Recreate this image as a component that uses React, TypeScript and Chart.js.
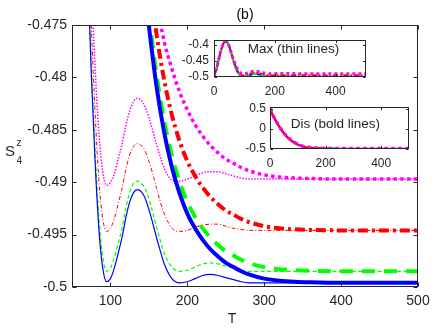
import React, { useEffect, useRef } from "react";
import { Chart, registerables } from "chart.js";

Chart.register(...registerables);

// ---------- data ----------
const THIN_T = [0, 10, 20, 30, 40, 50, 60, 65, 70, 75, 80, 85, 90, 95, 100, 105, 110, 115, 120, 125, 130, 135, 140, 145, 150, 155, 160, 165, 170, 180, 190, 200, 210, 220, 230, 240, 250, 260, 270, 280, 300, 350, 400, 450, 500];

const MAX_BLUE = [-0.5, -0.468, -0.428, -0.398, -0.39, -0.405, -0.437, -0.454, -0.4685, -0.4795, -0.488, -0.4945, -0.4982, -0.4995, -0.4992, -0.4982, -0.4968, -0.4953, -0.4934, -0.4919, -0.491, -0.4907, -0.4909, -0.4915, -0.4926, -0.4939, -0.4953, -0.4966, -0.4978, -0.4992, -0.4996, -0.4995, -0.4992, -0.4989, -0.4988, -0.4989, -0.4991, -0.4993, -0.4995, -0.4996, -0.4996, -0.4996, -0.4996, -0.4996, -0.4996];

const MAX_GREEN = [-0.5, -0.468, -0.428, -0.398, -0.39, -0.405, -0.437, -0.4533, -0.4676, -0.4785, -0.4869, -0.4934, -0.4971, -0.4985, -0.4982, -0.4972, -0.4959, -0.4944, -0.4925, -0.491, -0.4901, -0.4899, -0.4901, -0.4906, -0.4916, -0.4929, -0.4943, -0.4956, -0.4968, -0.4981, -0.4985, -0.4984, -0.4981, -0.4978, -0.4977, -0.4978, -0.498, -0.4982, -0.4984, -0.4985, -0.4985, -0.4985, -0.4985, -0.4985, -0.4985];

const MAX_RED = [-0.5, -0.468, -0.428, -0.398, -0.39, -0.405, -0.436, -0.4505, -0.4645, -0.4748, -0.4833, -0.4898, -0.4935, -0.4947, -0.4944, -0.4935, -0.4921, -0.4906, -0.4888, -0.4874, -0.4866, -0.4863, -0.4865, -0.487, -0.488, -0.4892, -0.4906, -0.4919, -0.493, -0.4944, -0.4947, -0.4946, -0.4943, -0.4941, -0.494, -0.494, -0.4942, -0.4944, -0.4945, -0.4946, -0.4946, -0.4946, -0.4946, -0.4946, -0.4946];

const MAX_MAGENTA = [-0.5, -0.468, -0.428, -0.398, -0.39, -0.405, -0.435, -0.447, -0.4605, -0.4708, -0.479, -0.4853, -0.489, -0.4903, -0.49, -0.4892, -0.4878, -0.4864, -0.4846, -0.4832, -0.4823, -0.482, -0.4822, -0.4828, -0.4838, -0.4851, -0.4864, -0.4876, -0.4887, -0.4898, -0.4899, -0.4897, -0.4894, -0.4891, -0.489, -0.489, -0.4892, -0.4894, -0.4896, -0.4897, -0.4897, -0.4897, -0.4897, -0.4897, -0.4897];

const THICK_T = [0, 10, 20, 30, 40, 50, 60, 70, 80, 90, 100, 110, 120, 130, 140, 150, 160, 170, 180, 190, 200, 210, 220, 230, 240, 250, 260, 270, 280, 300, 320, 340, 360, 400, 450, 500];

const DIS_BLUE = [0.5, 0.3404, 0.2104, 0.0904, -0.0196, -0.1096, -0.1896, -0.2546, -0.3096, -0.3546, -0.3916, -0.4216, -0.4436, -0.4596, -0.4686, -0.4751, -0.4809, -0.4853, -0.4886, -0.4911, -0.493, -0.4944, -0.4955, -0.4964, -0.4971, -0.4977, -0.4981, -0.4985, -0.4988, -0.4992, -0.4994, -0.4995, -0.49955, -0.4996, -0.4996, -0.4996];

const DIS_GREEN = [0.5, 0.3415, 0.2115, 0.0915, -0.0185, -0.1085, -0.1885, -0.2535, -0.3085, -0.3535, -0.3905, -0.4205, -0.4425, -0.4585, -0.4675, -0.474, -0.4798, -0.4842, -0.4875, -0.49, -0.4919, -0.4933, -0.4944, -0.4953, -0.496, -0.4966, -0.497, -0.4974, -0.4977, -0.4981, -0.4983, -0.4984, -0.49845, -0.4985, -0.4985, -0.4985];

const DIS_RED = [0.5, 0.3454, 0.2154, 0.0954, -0.0146, -0.1046, -0.1846, -0.2496, -0.3046, -0.3496, -0.3866, -0.4166, -0.4386, -0.4546, -0.4636, -0.4701, -0.4759, -0.4803, -0.4836, -0.4861, -0.488, -0.4894, -0.4905, -0.4914, -0.4921, -0.4927, -0.4931, -0.4935, -0.4938, -0.4942, -0.4944, -0.4945, -0.49455, -0.4946, -0.4946, -0.4946];

const DIS_MAGENTA = [0.5, 0.3503, 0.2203, 0.1003, -0.0097, -0.0997, -0.1797, -0.2447, -0.2997, -0.3447, -0.3817, -0.4117, -0.4337, -0.4497, -0.4587, -0.4665, -0.4727, -0.4766, -0.4792, -0.4814, -0.4831, -0.4845, -0.4856, -0.4865, -0.4872, -0.4878, -0.4882, -0.4886, -0.4889, -0.4893, -0.4895, -0.4896, -0.48965, -0.4897, -0.4897, -0.4897];

const MAIN_X_TICKS = [100, 200, 300, 400, 500];
const MAIN_Y_TICKS = [-0.5, -0.495, -0.49, -0.485, -0.48, -0.475];
const MAX_X_TICKS = [0, 200, 400];
const MAX_Y_TICKS = [-0.5, -0.45, -0.4];
const DIS_X_TICKS = [0, 200, 400];
const DIS_Y_TICKS = [-0.5, 0, 0.5];

const TITLE = "(b)";
const X_LABEL = "T";
const MAX_TEXT = "Max (thin lines)";
const DIS_TEXT = "Dis (bold lines)";

// ---------- styling ----------
const FONT = "'Liberation Sans', Arial, Helvetica, sans-serif";
const AX = "#262626";
const BLUE = "#0000ff";
const GREEN = "#00ff00";
const RED = "#ff0000";
const MAGENTA = "#ff00ff";

const pts = (xs: number[], ys: number[]) => xs.map((x, i) => ({ x, y: ys[i] }));
const fmt = (v: number) => String(Number(Number(v).toFixed(4)));

function line(xs: number[], ys: number[], color: string, width: number, dash: number[]) {
  return {
    data: pts(xs, ys),
    borderColor: color,
    backgroundColor: color,
    borderWidth: width,
    borderDash: dash,
    pointRadius: 0,
    fill: false,
    cubicInterpolationMode: "monotone" as const,
    clip: 0,
  };
}

function framePlugin(tickLen: number, extra?: (chart: any) => void) {
  return {
    id: "frame",
    beforeDraw(chart: any) {
      const { ctx, chartArea: a } = chart;
      ctx.save();
      ctx.fillStyle = "#ffffff";
      ctx.fillRect(a.left, a.top, a.right - a.left, a.bottom - a.top);
      ctx.restore();
    },
    afterDraw(chart: any) {
      const { ctx, chartArea: a, scales } = chart;
      ctx.save();
      ctx.strokeStyle = AX;
      ctx.lineWidth = 1;
      const L = Math.round(a.left) + 0.5;
      const R = Math.round(a.right) - 0.5;
      const T = Math.round(a.top) + 0.5;
      const B = Math.round(a.bottom) - 0.5;
      ctx.strokeRect(L, T, R - L, B - T);
      ctx.beginPath();
      for (const t of scales.x.ticks) {
        const px = Math.round(scales.x.getPixelForValue(t.value)) + 0.5;
        ctx.moveTo(px, B);
        ctx.lineTo(px, B - tickLen);
        ctx.moveTo(px, T);
        ctx.lineTo(px, T + tickLen);
      }
      for (const t of scales.y.ticks) {
        const py = Math.round(scales.y.getPixelForValue(t.value)) + 0.5;
        ctx.moveTo(L, py);
        ctx.lineTo(L + tickLen, py);
        ctx.moveTo(R, py);
        ctx.lineTo(R - tickLen, py);
      }
      ctx.stroke();
      ctx.restore();
      if (extra) extra(chart);
    },
  };
}

function axisOpts(
  min: number,
  max: number,
  ticks: number[],
  size: number,
  pad: number,
  fit: (s: any) => void
) {
  return {
    type: "linear" as const,
    min,
    max,
    grid: { display: false, drawTicks: false, tickLength: 0 },
    border: { display: false },
    afterBuildTicks: (s: any) => {
      s.ticks = ticks.map((v) => ({ value: v }));
    },
    afterFit: fit,
    ticks: {
      font: { family: FONT, size },
      color: AX,
      padding: pad,
      maxRotation: 0,
      minRotation: 0,
      autoSkip: false,
      callback: (v: any) => fmt(v),
    },
  };
}

function useChart(ref: React.RefObject<HTMLCanvasElement>, make: (c: HTMLCanvasElement) => Chart) {
  useEffect(() => {
    if (!ref.current) return;
    const ch = make(ref.current);
    return () => ch.destroy();
  }, []);
}

export default function App() {
  const mainRef = useRef<HTMLCanvasElement>(null);
  const maxRef = useRef<HTMLCanvasElement>(null);
  const disRef = useRef<HTMLCanvasElement>(null);

  useChart(mainRef, (c) =>
    new Chart(c, {
      type: "line",
      data: {
        datasets: [
          line(THICK_T, DIS_BLUE, BLUE, 4, []),
          line(THICK_T, DIS_GREEN, GREEN, 4, [13, 9]),
          line(THICK_T, DIS_RED, RED, 4, [10, 4, 3, 4]),
          line(THICK_T, DIS_MAGENTA, MAGENTA, 3.5, [3.5, 3.3]),
          line(THIN_T, MAX_BLUE, BLUE, 1.2, []),
          line(THIN_T, MAX_GREEN, GREEN, 1.2, [4, 2.5]),
          line(THIN_T, MAX_RED, RED, 1, [4, 2, 1, 2]),
          line(THIN_T, MAX_MAGENTA, MAGENTA, 1.5, [1.5, 1.5]),
        ] as any,
      },
      options: {
        animation: false,
        responsive: false,
        maintainAspectRatio: false,
        devicePixelRatio: 1,
        events: [],
        layout: { padding: { left: 0, top: 25, right: 18, bottom: 0 } },
        plugins: { legend: { display: false }, tooltip: { enabled: false } },
        scales: {
          x: axisOpts(50, 500, MAIN_X_TICKS, 14, 6, (s: any) => {
            s.height = 41;
          }),
          y: axisOpts(-0.5, -0.475, MAIN_Y_TICKS, 14, 5, (s: any) => {
            s.width = 72;
          }),
        },
      } as any,
      plugins: [
        framePlugin(4, (chart: any) => {
          const ctx = chart.ctx;
          ctx.save();
          ctx.fillStyle = "#000000";
          ctx.textBaseline = "alphabetic";
          ctx.font = `14px ${FONT}`;
          ctx.textAlign = "center";
          ctx.fillText(TITLE, 245, 19);
          ctx.fillStyle = AX;
          ctx.fillText(X_LABEL, 232, 323);
          ctx.textAlign = "left";
          ctx.font = `15px ${FONT}`;
          ctx.fillText("S", 5, 156);
          ctx.font = `10px ${FONT}`;
          ctx.fillText("z", 16.5, 145.5);
          ctx.fillText("4", 16.5, 163.5);
          ctx.restore();
        }) as any,
      ],
    })
  );

  useChart(maxRef, (c) =>
    new Chart(c, {
      type: "line",
      data: {
        datasets: [
          line(THIN_T, MAX_MAGENTA, MAGENTA, 3, [3, 3]),
          line(THIN_T, MAX_RED, RED, 1.8, [5, 2, 1.5, 2]),
          line(THIN_T, MAX_GREEN, GREEN, 2.4, [5, 3]),
          line(THIN_T, MAX_BLUE, BLUE, 1.8, []),
        ] as any,
      },
      options: {
        animation: false,
        responsive: false,
        maintainAspectRatio: false,
        devicePixelRatio: 1,
        events: [],
        layout: { padding: { left: 0, top: 5, right: 4, bottom: 0 } },
        plugins: { legend: { display: false }, tooltip: { enabled: false } },
        scales: {
          x: axisOpts(0, 500, MAX_X_TICKS, 12, 7, (s: any) => {
            s.height = 21;
          }),
          y: axisOpts(-0.5, -0.386, MAX_Y_TICKS, 12, 5, (s: any) => {
            s.width = 50;
          }),
        },
      } as any,
      plugins: [
        framePlugin(2.5, (chart: any) => {
          const ctx = chart.ctx;
          ctx.save();
          ctx.fillStyle = AX;
          ctx.font = `13.5px ${FONT}`;
          ctx.textAlign = "left";
          ctx.textBaseline = "alphabetic";
          ctx.fillText(MAX_TEXT, 83.7, 25.3);
          ctx.restore();
        }) as any,
      ],
    })
  );

  useChart(disRef, (c) =>
    new Chart(c, {
      type: "line",
      data: {
        datasets: [
          line(THICK_T, DIS_MAGENTA, MAGENTA, 3.5, [3.5, 3.5]),
          line(THICK_T, DIS_RED, RED, 2, []),
          line(THICK_T, DIS_GREEN, GREEN, 2, [6, 3]),
          line(THICK_T, DIS_BLUE, BLUE, 2, []),
        ] as any,
      },
      options: {
        animation: false,
        responsive: false,
        maintainAspectRatio: false,
        devicePixelRatio: 1,
        events: [],
        layout: { padding: { left: 0, top: 7, right: 6, bottom: 0 } },
        plugins: { legend: { display: false }, tooltip: { enabled: false } },
        scales: {
          x: axisOpts(0, 500, DIS_X_TICKS, 12, 7, (s: any) => {
            s.height = 19;
          }),
          y: axisOpts(-0.5, 0.54, DIS_Y_TICKS, 12, 4, (s: any) => {
            s.width = 50;
          }),
        },
      } as any,
      plugins: [
        framePlugin(2.5, (chart: any) => {
          const ctx = chart.ctx;
          ctx.save();
          ctx.fillStyle = AX;
          ctx.font = `13.5px ${FONT}`;
          ctx.textAlign = "left";
          ctx.textBaseline = "alphabetic";
          ctx.fillText(DIS_TEXT, 70.7, 32.3);
          ctx.restore();
        }) as any,
      ],
    })
  );

  return (
    <div style={{ position: "absolute", left: 0, top: 0, width: 436, height: 328, background: "#fff" }}>
      <canvas ref={mainRef} width={436} height={328} style={{ position: "absolute", left: 0, top: 0, width: 436, height: 328 }} />
      <canvas ref={maxRef} width={206} height={70} style={{ position: "absolute", left: 164, top: 28, width: 206, height: 70 }} />
      <canvas ref={disRef} width={195} height={72} style={{ position: "absolute", left: 220, top: 96, width: 195, height: 72 }} />
    </div>
  );
}
